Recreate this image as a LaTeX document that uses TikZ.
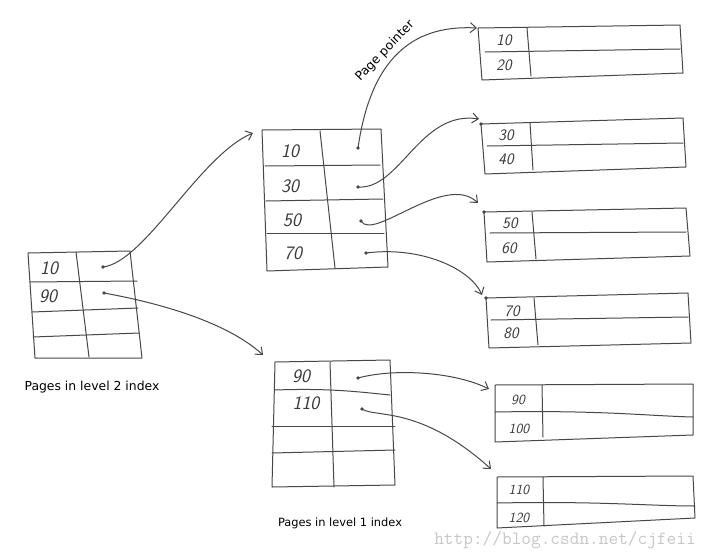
\documentclass[tikz,border=0pt]{standalone}
\usepackage{fontspec}
\newfontfamily\labelfont{DejaVu Sans}
\usetikzlibrary{arrows.meta}
\definecolor{penc}{HTML}{474747}
\definecolor{inkc}{HTML}{3A3A3A}
\tikzset{
  pen/.style={draw=penc, line width=1pt, line join=round, line cap=round},
  ptr/.style={pen, -{Straight Barb[length=6pt,width=10pt]}},
  dig/.style={font=\sffamily\itshape\fontsize{19}{19}\selectfont, text=inkc, inner sep=0pt},
  sdig/.style={dig, font=\sffamily\itshape\fontsize{16}{16}\selectfont},
  tdig/.style={dig, font=\sffamily\itshape\fontsize{14}{14}\selectfont},
  pdot/.style={circle, fill=penc, inner sep=0pt, minimum size=3.6pt},
  lbl/.style={font=\labelfont\fontsize{12.4}{14}\selectfont, text=black, inner sep=0pt},
  wm/.style={font=\ttfamily\fontsize{18.8}{20}\selectfont, text=black!22, inner sep=0pt}
}
\begin{document}
\begin{tikzpicture}[x=1pt,y=-1pt]
\fill[white] (0,0) rectangle (713,560);
\useasboundingbox (0,0) rectangle (713,560);

% ---------- level 2 page ----------
\draw[pen] (28,253) -- (130,251) -- (142,358) -- (35,358) -- cycle;
\draw[pen] (76,252) -- (89,357);
\draw[pen] (30,282) -- (137,281);
\draw[pen] (32,312) -- (138,308);
\draw[pen] (33,337) -- (139,333);
\node[dig] (l10) at (49,268) {10};
\node[dig] (l90) at (48,296) {90};
\node[pdot] (ld1) at (103,267) {};
\node[pdot] (ld2) at (104,293) {};
\node[lbl] (lab2) at (92,387) {Pages in level 2 index};

% ---------- level 1 page (top) ----------
\draw[pen] (262,130) -- (381,129) -- (388,267) -- (267,271) -- cycle;
\draw[pen] (320,131) -- (335,268);
\draw[pen] (265,166) -- (380,165);
\draw[pen] (266,201) -- (383,199);
\draw[pen] (267,233) -- (384,233);
\node[dig] (m10) at (290,151) {10};
\node[dig] (m30) at (290,186) {30};
\node[dig] (m50) at (292,220) {50};
\node[dig] (m70) at (293,253) {70};
\node[pdot] (md1) at (358,148) {};
\node[pdot] (md2) at (358,187) {};
\node[pdot] (md3) at (361,221) {};
\node[pdot] (md4) at (366,253) {};

% ---------- level 1 page (bottom) ----------
\draw[pen] (275,362) -- (390,360) -- (395,485) -- (272,487) -- cycle;
\draw[pen] (330,362) -- (334,487);
\draw[pen] (275,390) .. controls (330,388) and (360,392) .. (390,395);
\draw[pen] (272,426) -- (395,426);
\draw[pen] (272,453) -- (395,450);
\node[dig] (n90) at (301,376) {90};
\node[dig] (n110) at (306,403) {110};
\node[pdot] (nd1) at (358,378) {};
\node[pdot] (nd2) at (362,409) {};
\node[lbl, font=\labelfont\fontsize{11.4}{13}\selectfont] (lab1) at (340,523) {Pages in level 1 index};

% ---------- leaf pages ----------
% R1
\draw[pen] (478,28) -- (680,25) -- (683,73) -- (482,80) -- cycle;
\draw[pen] (527,28) -- (531,76);
\draw[pen] (485,52) -- (680,49);
\node[sdig] (r10) at (504,40) {10};
\node[sdig] (r20) at (504,65) {20};
% R2
\draw[pen] (481,124) -- (683,118) -- (686,167) -- (485,174) -- cycle;
\draw[pen] (530,123) -- (533,170);
\draw[pen] (487,146) -- (683,143);
\node[sdig] (r30) at (506,135) {30};
\node[sdig] (r40) at (506,159) {40};
\node[pdot] (rp2) at (481,124) {};
% R3
\draw[pen] (484,212) -- (686,208) -- (690,256) -- (487,262) -- cycle;
\draw[pen] (532,212) -- (536,259);
\draw[pen] (490,233) -- (686,232);
\node[sdig] (r50) at (510,223) {50};
\node[sdig] (r60) at (509,248) {60};
\node[pdot] (rp3) at (484,212) {};
% R4
\draw[pen] (486,298) -- (688,293) -- (691,343) -- (489,348) -- cycle;
\draw[pen] (534,298) -- (538,345);
\draw[pen] (491,320) -- (688,317);
\node[sdig] (r70) at (512,311) {70};
\node[sdig] (r80) at (511,333) {80};
\node[pdot] (rp4) at (486,298) {};
% R5
\draw[pen] (495,385) -- (693,384) -- (693,435) -- (495,442) -- cycle;
\draw[pen] (542,385) -- (543,437);
\draw[pen] (495,412) .. controls (600,410) and (650,416) .. (693,417);
\node[tdig] (r90) at (518,400) {90};
\node[tdig] (r100) at (519,429) {100};
% R6
\draw[pen] (497,477) -- (693,476) -- (695,518) -- (497,528) -- cycle;
\draw[pen] (543,477) -- (544,526);
\draw[pen] (497,503) .. controls (600,501) and (650,506) .. (695,506);
\node[tdig] (r110) at (519,490) {110};
\node[tdig] (r120) at (519,518) {120};

% ---------- arrow targets ----------
\coordinate (tM) at (253,133);
\coordinate (tN) at (263,355);
\coordinate (t1) at (477,28);
\coordinate (t2) at (479,119);
\coordinate (t3) at (478,203);
\coordinate (t4) at (482,295);
\coordinate (t5) at (489,389);
\coordinate (t6) at (491,469);

% ---------- pointers ----------
\draw[ptr] (ld1.center) .. controls (145,262) and (200,155) .. (tM);
\draw[ptr] (ld2.center) .. controls (170,305) and (230,325) .. (tN);
\draw[ptr] (md1.center) .. controls (372,50) and (420,25) .. (t1);
\draw[ptr] (md2.center) .. controls (400,190) and (420,110) .. (t2);
\draw[ptr] (md3.center) .. controls (373,242) and (445,172) .. (t3);
\draw[ptr] (md4.center) .. controls (420,246) and (470,268) .. (t4);
\draw[ptr] (nd1.center) .. controls (395,368) and (455,372) .. (t5);
\draw[ptr] (nd2.center) .. controls (375,418) and (420,405) .. (t6);

\node[lbl, rotate=46] (pp) at (385,51) {Page pointer};

\node[wm] (wmk) at (565,540) {http://blog.csdn.net/cjfeii};
\end{tikzpicture}
\end{document}
